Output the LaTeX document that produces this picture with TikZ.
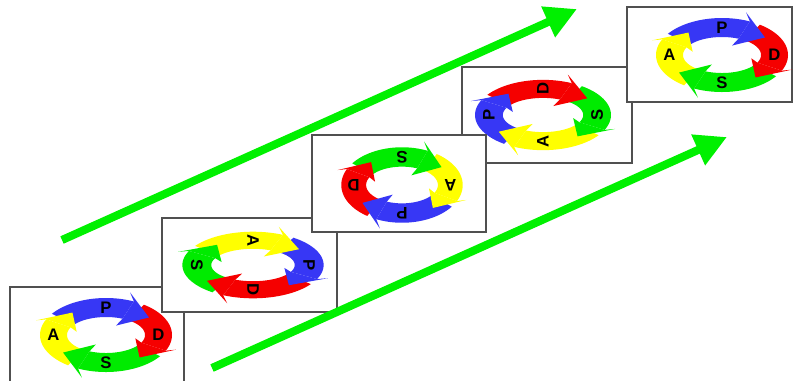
\documentclass[tikz,border=0pt]{standalone}
\usepackage{fontspec}
\setmainfont{Liberation Sans}
\usetikzlibrary{arrows.meta}
\definecolor{cBlue}{RGB}{55,55,245}
\definecolor{cRed}{RGB}{245,0,0}
\definecolor{cGreen}{RGB}{0,235,0}
\definecolor{cYellow}{RGB}{255,255,0}
\definecolor{arrowGreen}{RGB}{0,240,0}
\definecolor{boxGray}{RGB}{80,80,80}
\def\rxo{66}\def\ryo{37}
\def\rxi{39}\def\ryi{18}
\def\rxm{52.5}\def\rym{27.5}
% body of a segment centred at angle #2
\newcommand\segbody[2]{%
  \pgfmathsetmacro\aS{#2+55}\pgfmathsetmacro\aE{#2-25}%
  \fill[#1] plot[domain=\aS:\aE, samples=30] ({\rxo*cos(\x)},{\ryo*sin(\x)})
    -- plot[domain=\aE:\aS, samples=30] ({\rxi*cos(\x)},{\ryi*sin(\x)}) -- cycle;}
\newcommand\seghead[2]{%
  \fill[#1] ({\rxo*cos(#2-25)},{\ryo*sin(#2-25)})
    -- ({(\rxo+8)*cos(#2-19)},{(\ryo+8)*sin(#2-19)})
    -- ({(\rxm+2)*cos(#2-52)},{(\rym+1)*sin(#2-52)})
    -- ({(\rxi-8)*cos(#2-19)},{(\ryi-8)*sin(#2-19)})
    -- ({\rxi*cos(#2-25)},{\ryi*sin(#2-25)}) -- cycle;}
\newcommand\seglabel[4]{%
  \node[lettertext, rotate=#4] (#1) at ({\rxm*cos(#3)},{\rym*sin(#3)}) {#2};}
% #1 name prefix, #2 cx, #3 cy, #4 angle of P, #5 letter rotation, #6 xscale, #7 yscale
\newcommand\pdsacycle[7]{%
  \begin{scope}[shift={(#2,#3)}, yscale=-1, xscale=#6, yscale=#7]
    \pgfmathsetmacro\cP{#4}\pgfmathsetmacro\cD{#4-90}%
    \pgfmathsetmacro\cS{#4-180}\pgfmathsetmacro\cA{#4-270}%
    \segbody{cBlue}{\cP}\segbody{cRed}{\cD}\segbody{cGreen}{\cS}\segbody{cYellow}{\cA}
    \seghead{cBlue}{\cP}\seghead{cRed}{\cD}\seghead{cGreen}{\cS}\seghead{cYellow}{\cA}
    \seglabel{#1P}{P}{\cP}{#5}\seglabel{#1D}{D}{\cD}{#5}
    \seglabel{#1S}{S}{\cS}{#5}\seglabel{#1A}{A}{\cA}{#5}
  \end{scope}}
\tikzset{
  stagebox/.style={draw=boxGray, line width=0.9pt, fill=white},
  lettertext/.style={font=\bfseries\fontsize{9.5}{9.5}\selectfont, text=black, inner sep=0pt},
  bigarrow/.style={draw=arrowGreen, line width=4.6pt,
    -{Triangle[length=18pt, width=18pt]}, arrowGreen}
}
\begin{document}
\begin{tikzpicture}[x=0.02cm,y=-0.02cm]
\useasboundingbox (0,0) rectangle (794,380);
% stage 1
\draw[stagebox] (10,287) rectangle (184,382);
\pdsacycle{a}{106}{335}{90}{0}{1}{1}
% stage 2
\draw[stagebox] (162,218) rectangle (337,312);
\pdsacycle{b}{253}{265}{0}{-90}{1.07}{0.9}
% stage 4
\draw[stagebox] (462,67) rectangle (632,163);
\pdsacycle{d}{543}{115}{180}{90}{1.03}{0.95}
% stage 3
\draw[stagebox] (312,135) rectangle (486,232);
\pdsacycle{c}{402}{185}{270}{180}{0.92}{1.02}
% stage 5
\draw[stagebox] (627,7) rectangle (792,102);
\pdsacycle{e}{722}{55}{90}{0}{1}{1}
% green arrows
\coordinate (up1) at (62,240);
\coordinate (up2) at (577,9);
\coordinate (lo1) at (212,368);
\coordinate (lo2) at (727,137);
\draw[bigarrow] (up1) -- (up2);
\draw[bigarrow] (lo1) -- (lo2);
\end{tikzpicture}
\end{document}
